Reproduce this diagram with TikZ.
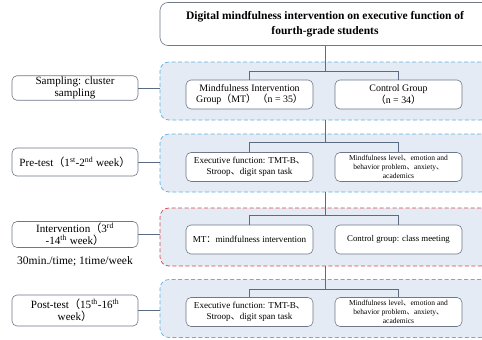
\documentclass[tikz,border=0pt]{standalone}
\usepackage{fontspec}
\setmainfont{Liberation Serif}
\newfontfamily\cjk{Noto Sans CJK SC}
\usetikzlibrary{positioning}
\definecolor{StageFill}{HTML}{E4EBF5}
\definecolor{SkyDash}{HTML}{5AB4E6}
\definecolor{RedDash}{HTML}{D94545}
\definecolor{BoxGray}{HTML}{6E7888}
\definecolor{LinkGray}{HTML}{5D6B80}
\newcommand{\lp}{{\cjk （}}
\newcommand{\rp}{{\cjk ）}}
\newcommand{\dn}{{\cjk 、}}

\begin{document}
\begin{tikzpicture}[
    x=1pt, y=-1pt,
    stage/.style={draw=SkyDash, dash pattern=on 4pt off 2.5pt, rounded corners=9pt, fill=StageFill, minimum width=330pt, minimum height=58pt, line width=0.7pt},
    phase/.style={draw=BoxGray, rounded corners=5pt, fill=white, align=center, minimum width=126pt, font=\fontsize{11.1}{12.5}\selectfont, line width=0.6pt, inner sep=1pt},
    item/.style={draw=BoxGray, rounded corners=5pt, fill=white, align=center, minimum width=127pt, minimum height=29pt, line width=0.6pt, inner sep=1pt},
    link/.style={draw=LinkGray, line width=0.8pt}
]
\clip (0,0) rectangle (482,340);
\fill[white] (0,0) rectangle (482,340);
% title
\node[draw=BoxGray, rounded corners=8pt, fill=white, minimum width=330pt, minimum height=43pt, align=center, font=\bfseries\fontsize{11.5}{15}\selectfont, line width=0.6pt] (title) at (325,24) {Digital mindfulness intervention on executive function of\\fourth-grade students};
% stages
\node[stage] (reg1) at (325,91) {};
\node[stage] (reg2) at (325,163) {};
\node[stage, draw=RedDash] (reg3) at (325,237) {};
\node[stage] (reg4) at (325,308.5) {};
% boxes
\node[item, font=\fontsize{9.9}{11.5}\selectfont] (mt) at (249.5,94.5) {Mindfulness Intervention\\Group\lp MT\rp\,\lp n = 35\rp};
\node[item, font=\fontsize{9.9}{11.5}\selectfont] (cg) at (398.5,94.5) {Control Group\\\lp n = 34\rp};
\node[item, font=\fontsize{9.1}{11}\selectfont] (pre1) at (249.5,167) {Executive function: TMT-B\dn\\Stroop\dn digit span task};
\node[item, font=\fontsize{7.5}{9}\selectfont] (pre2) at (398.5,167) {Mindfulness level\dn emotion and\\behavior problem\dn anxiety\dn\\academics};
\node[item, font=\fontsize{9.1}{11}\selectfont] (int1) at (249.5,239.5) {MT{\cjk ：}mindfulness intervention};
\node[item, font=\fontsize{8.8}{11}\selectfont] (int2) at (398.5,239.5) {Control group: class meeting};
\node[item, font=\fontsize{9.1}{11}\selectfont] (post1) at (249.5,312) {Executive function: TMT-B\dn\\Stroop\dn digit span task};
\node[item, font=\fontsize{7.5}{9}\selectfont] (post2) at (398.5,312) {Mindfulness level\dn emotion and\\behavior problem\dn anxiety\dn\\academics};
% phases
\node[phase, minimum height=24pt] (sampling) at (75,88) {Sampling: cluster\\sampling};
\node[phase, minimum height=28pt] (pretest) at (75,162) {Pre-test\lp 1\textsuperscript{st}-2\textsuperscript{nd} week\rp};
\node[phase, minimum height=26pt] (interv) at (75,234.5) {Intervention\lp 3\textsuperscript{rd}\\-14\textsuperscript{th} week\rp};
\node[font=\fontsize{11.5}{13}\selectfont, below=5pt of interv] (note) {30min./time; 1time/week};
\node[phase, minimum height=31pt] (posttest) at (75,310.5) {Post-test\lp 15\textsuperscript{th}-16\textsuperscript{th}\\week\rp};
% links
\draw[link] (title.south) -- ++(0,26) -| (mt.north);
\draw[link] (title.south) ++(0,26) -| (cg.north);
\draw[link] (reg1.south) -- ++(0,22) -| (pre1.north);
\draw[link] (reg1.south) ++(0,22) -| (pre2.north);
\draw[link] (reg2.south) -- ++(0,23) -| (int1.north);
\draw[link] (reg2.south) ++(0,23) -| (int2.north);
\draw[link] (reg3.south) -- ++(0,23) -| (post1.north);
\draw[link] (reg3.south) ++(0,23) -| (post2.north);
\foreach \a/\b in {sampling/reg1,pretest/reg2,interv/reg3,posttest/reg4}{\draw[link] (\a) -- (\a -| \b.west);}
\end{tikzpicture}
\end{document}
